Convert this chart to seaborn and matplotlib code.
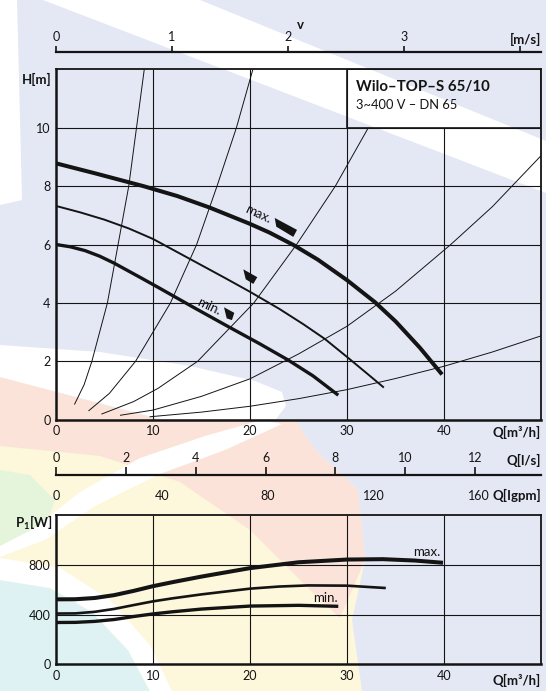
import numpy as np
import pandas as pd
import matplotlib.pyplot as plt
import matplotlib.patches as mpatches
import seaborn as sns

sns.set_theme(style="white")
plt.rcParams['font.family'] = ['Lato', 'DejaVu Sans']
plt.rcParams['mathtext.fontset'] = 'custom'
plt.rcParams['mathtext.rm'] = 'Lato'
plt.rcParams['mathtext.bf'] = 'Lato:bold'

# ---- values ----
# pump curves H [m] over Q [m3/h]
q_hmax = [0, 4, 9, 12.5, 15.8, 19.9, 22, 24.5, 27, 30, 32.9, 35, 37.5, 39.8]
h_hmax = [8.78, 8.44, 8.0, 7.66, 7.27, 6.72, 6.41, 5.98, 5.48, 4.78, 4.02, 3.37, 2.47, 1.55]
q_hmid = [0, 2.5, 5, 7.5, 10, 12.5, 15, 17.5, 20, 23, 25.5, 27.7, 30, 32, 33.8]
h_hmid = [7.32, 7.10, 6.85, 6.55, 6.19, 5.74, 5.29, 4.84, 4.38, 3.80, 3.27, 2.77, 2.15, 1.6, 1.1]
q_hmin = [0, 1.5, 3, 4.5, 6, 8.75, 10.7, 14, 17.8, 21, 23.9, 26.5, 29.1]
h_hmin = [6.0, 5.92, 5.79, 5.6, 5.36, 4.86, 4.5, 3.88, 3.18, 2.6, 2.05, 1.5, 0.84]

# system curves (thin lines)
sys_q = [
    [1.9, 2.9, 3.7, 5.3, 6.4, 7.5, 8.3, 9.1],
    [3.35, 5.5, 8.2, 11.8, 14.5, 16.6, 18.6, 20.3],
    [4.68, 8, 10.5, 14.6, 20.4, 24.8, 28.8, 32.2],
    [6.6, 10, 15, 20, 25, 30, 35, 40.7, 45, 50],
    [9.65, 15, 20, 25, 30, 35, 40, 45, 50],
]
sys_h = [
    [0.52, 1.2, 2.0, 4.0, 6.0, 8.0, 10.0, 12.0],
    [0.3, 0.9, 2.0, 4.0, 6.0, 8.0, 10.0, 12.0],
    [0.19, 0.62, 1.07, 2.0, 4.0, 6.0, 8.0, 10.0],
    [0.15, 0.33, 0.8, 1.4, 2.25, 3.2, 4.4, 6.0, 7.3, 9.04],
    [0.1, 0.26, 0.46, 0.72, 1.03, 1.41, 1.83, 2.32, 2.87],
]

# speed-setting markers (quadrilaterals, Q / H corners)
mark_q = [[22.55, 24.85, 24.46, 22.71], [19.31, 20.75, 20.34, 19.56], [17.32, 18.38, 18.14, 17.60]]
mark_h = [[6.91, 6.50, 6.26, 6.61], [5.15, 4.88, 4.65, 4.81], [3.85, 3.66, 3.41, 3.47]]

# power input P1 [W] over Q
q_pmax = [0, 2, 4, 6, 8, 10, 12, 15, 20, 25, 30, 33.7, 37, 39.9]
p_max = [522, 523, 533, 556, 590, 628, 660, 705, 773, 820, 842, 845, 834, 816]
q_pmid = [0, 2, 4, 6, 8, 10, 12, 15, 20, 23, 26, 30, 34]
p_mid = [408, 409, 422, 445, 476, 506, 530, 562, 608, 625, 634, 632, 613]
q_pmin = [0, 2, 4, 6, 8, 10, 12, 15, 20, 25, 29.1]
p_min = [336, 337, 345, 360, 384, 405, 422, 444, 468, 474, 466]

q_ticks = [0, 10, 20, 30, 40]
h_ticks = [0, 2, 4, 6, 8, 10]
p_ticks = [0, 400, 800]
v_ticks = [0, 1, 2, 3, 4]
ls_ticks = [0, 2, 4, 6, 8, 10, 12]
gpm_ticks = [0, 40, 80, 120, 160]

Q_MAX, H_MAX, P_MAX = 50, 12, 1200
M3H_PER_MS = 11.946     # DN 65 : 1 m/s -> m3/h
M3H_PER_LS = 3.6
M3H_PER_GPM = 0.272765

INK = '#141414'
LAV = '#e4e8f5'
W, H = 546, 691
TICK_FS = 9

# faint watermark behind the chart (figure pixels)
bg_shapes = [
    ('#fdf7db', [(0, 377), (157, 419), (295, 420), (315, 450), (358, 490), (365, 560), (352, 620), (362, 691), (0, 691)]),
    ('#fce3da', [(0, 377), (157, 419), (295, 420), (315, 450), (358, 490), (365, 560), (340, 618),
                 (310, 590), (250, 530), (180, 482), (100, 456), (0, 446)]),
    ('#e4f5dc', [(0, 470), (30, 475), (55, 500), (45, 530), (20, 548), (0, 552)]),
    ('#def2f4', [(0, 580), (50, 588), (92, 612), (128, 650), (150, 691), (0, 691)]),
    ('white', [(43, 0), (200, 0), (546, 141), (546, 193)]),
    ('white', [(0, 0), (17, 0), (22, 200), (0, 205)]),
    ('white', [(0, 345), (100, 352), (190, 366), (255, 381), (282, 392), (286, 406), (276, 419),
               (160, 419), (80, 398), (0, 377)]),
    ('white', [(262, 420), (205, 436), (140, 458), (80, 492), (35, 528), (0, 546), (0, 557),
               (45, 540), (95, 506), (160, 474), (225, 450), (282, 424)]),
    ('white', [(0, 558), (60, 568), (110, 600), (150, 645), (172, 691), (150, 691), (128, 650),
               (92, 612), (50, 588), (0, 580)]),
]


def px_axes(x0, y0, x1, y1):
    return fig.add_axes([x0 / W, 1 - y1 / H, (x1 - x0) / W, max(y1 - y0, 0.01) / H])


def curve(ax, q, y, lw):
    sns.lineplot(x=q, y=y, ax=ax, color=INK, linewidth=lw, sort=False,
                 estimator=None, legend=False, solid_capstyle='butt', solid_joinstyle='round')


def frame(ax):
    for side, lw in [('left', 1.8), ('bottom', 1.8), ('top', 1.3), ('right', 1.3)]:
        ax.spines[side].set_visible(True)
        ax.spines[side].set_color(INK)
        ax.spines[side].set_linewidth(lw)


def scale_line(ax, side=None):
    ax.set_facecolor('none')
    for s in ['left', 'right', 'top', 'bottom']:
        ax.spines[s].set_visible(s == side)
    if side:
        ax.spines[side].set_linewidth(1.6)
        ax.spines[side].set_color(INK)
    ax.set_yticks([])


fig = plt.figure(figsize=(W / 100, H / 100), dpi=100, facecolor=LAV)

bg = fig.add_axes([0, 0, 1, 1], zorder=-10)
bg.set_xlim(0, W)
bg.set_ylim(H, 0)
bg.axis('off')
for col, pts in bg_shapes:
    bg.add_patch(mpatches.Polygon(pts, closed=True, fc=col, ec='none'))

# ---------------- H(Q) panel ----------------
ax = px_axes(56, 69.3, 541, 419.7)
ax.set_facecolor('none')
ax.vlines(q_ticks[1:4], 0, H_MAX, color=INK, lw=0.8)
ax.vlines(q_ticks[4:], 0, 10, color=INK, lw=0.8)
ax.hlines(h_ticks[1:], 0, Q_MAX, color=INK, lw=0.8)
ax.add_patch(mpatches.Rectangle((30, 10), 20, 2, fc='none', ec=INK, lw=1.2))

for q, h in zip(sys_q, sys_h):
    curve(ax, q, h, 0.7)
curve(ax, q_hmax, h_hmax, 2.9)
curve(ax, q_hmid, h_hmid, 1.4)
curve(ax, q_hmin, h_hmin, 2.4)
for q, h in zip(mark_q, mark_h):
    ax.fill(q, h, color=INK, lw=0)

ax.text(20.8, 7.05, 'max.', rotation=-25, ha='center', va='center', fontsize=9.5, color=INK)
ax.text(15.8, 3.89, 'min.', rotation=-25, ha='center', va='center', fontsize=9.5, color=INK)
ax.text(30.93, 11.27, 'Wilo–TOP–S 65/10', fontsize=10.8, fontweight='bold', color=INK, va='baseline')
ax.text(30.93, 10.64, '3~400 V – DN 65', fontsize=9.3, color=INK, va='baseline')

ax.set_xlim(0, Q_MAX)
ax.set_ylim(0, H_MAX)
ax.set_xticks(q_ticks + [Q_MAX], [str(t) for t in q_ticks] + [''])
ax.set_yticks(h_ticks + [H_MAX], [str(t) for t in h_ticks] + [''])
ax.tick_params(length=0, labelsize=TICK_FS, colors=INK, pad=4)
ax.set_xlabel('')
ax.set_ylabel('')
frame(ax)

# ---------------- velocity scale ----------------
av = px_axes(56, 52.3, 541, 52.3)
scale_line(av, 'top')
av.set_xlim(0, Q_MAX / M3H_PER_MS)
av.xaxis.tick_top()
av.set_xticks(v_ticks, [str(t) for t in v_ticks[:-1]] + [''])
av.tick_params(axis='x', direction='out', length=4, width=1.2, colors=INK, labelsize=TICK_FS, pad=3)

# ---------------- l/s and Igpm scales ----------------
al = px_axes(56, 475, 541, 475)
scale_line(al, 'top')
al.set_xlim(0, Q_MAX / M3H_PER_LS)
al.xaxis.tick_top()
al.set_xticks(ls_ticks, [str(t) for t in ls_ticks])
al.tick_params(axis='x', direction='out', length=5.5, width=1.2, colors=INK, labelsize=TICK_FS, pad=2.5)

ag = px_axes(56, 475, 541, 475)
scale_line(ag)
ag.set_xlim(0, Q_MAX / M3H_PER_GPM)
ag.set_xticks(gpm_ticks, [str(t) for t in gpm_ticks])
ag.tick_params(axis='x', direction='out', length=6.5, width=1.2, colors=INK, labelsize=TICK_FS, pad=4)

# ---------------- P1(Q) panel ----------------
ap = px_axes(56, 515, 541, 664.3)
ap.set_facecolor('none')
ap.vlines(q_ticks[1:], 0, P_MAX, color=INK, lw=0.8)
ap.hlines(p_ticks[1:], 0, Q_MAX, color=INK, lw=0.8)
curve(ap, q_pmax, p_max, 2.9)
curve(ap, q_pmid, p_mid, 1.9)
curve(ap, q_pmin, p_min, 2.4)
ap.text(38.2, 900, 'max.', ha='center', va='center', fontsize=9.5, color=INK)
ap.text(27.8, 534, 'min.', ha='center', va='center', fontsize=9.5, color=INK)
ap.set_xlim(0, Q_MAX)
ap.set_ylim(0, P_MAX)
ap.set_xticks(q_ticks + [Q_MAX], [str(t) for t in q_ticks] + [''])
ap.set_yticks(p_ticks + [P_MAX], [str(t) for t in p_ticks] + [''])
ap.tick_params(length=0, labelsize=TICK_FS, colors=INK, pad=4)
ap.set_xlabel('')
ap.set_ylabel('')
frame(ap)

# ---------------- unit labels ----------------
lab = dict(fontsize=9.5, fontweight='bold', color=INK, va='center')
bg.text(300, 25, 'v', ha='center', **lab)
bg.text(541, 39, '[m/s]', ha='right', **lab)
bg.text(52, 79, 'H[m]', ha='right', **lab)
bg.text(541, 432, 'Q[m³/h]', ha='right', **lab)
bg.text(541, 460, 'Q[l/s]', ha='right', **lab)
bg.text(541, 495, 'Q[Igpm]', ha='right', **lab)
bg.text(52, 523, r'$\mathbf{P_1[W]}$', ha='right', **lab)
bg.text(541, 680, 'Q[m³/h]', ha='right', **lab)

fig.savefig('out.png', dpi=100, facecolor=fig.get_facecolor())
